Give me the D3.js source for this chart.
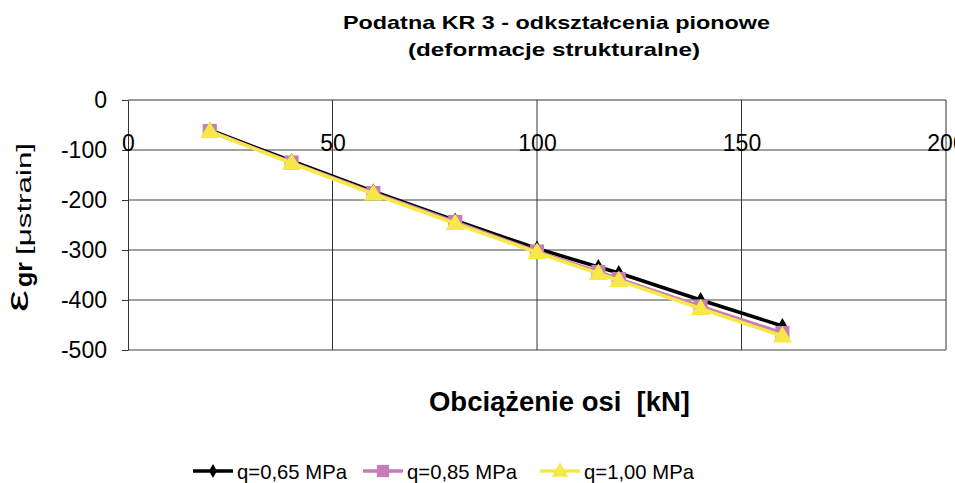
<!DOCTYPE html>
<html>
<head>
<meta charset="utf-8">
<script src="https://cdn.jsdelivr.net/npm/d3@7"></script>
<style>
  body { margin: 0; background: #fff; }
  text { font-family: "Liberation Sans", Arial, Helvetica, sans-serif; white-space: pre; }
</style>
</head>
<body>
<div id="chart"></div>
<script>
////// DATA
var loads = [20, 40, 60, 80, 100, 115, 120, 140, 160];
var q065 = [-60, -122, -183, -241, -297, -334, -346, -400, -452];
var q085 = [-62, -125, -186, -244, -303, -344, -358, -413, -466];
var q100 = [-63, -126, -188, -247, -305, -347, -361, -417, -472];
var seriesNames = ["q=0,65 MPa", "q=0,85 MPa", "q=1,00 MPa"];
var xTicks = [0, 50, 100, 150, 200];
var yTicks = [0, -100, -200, -300, -400, -500];

var series = [
    { name: seriesNames[0], values: q065, color: "#000000", marker: "diamond" },
    { name: seriesNames[1], values: q085, color: "#c77bb7", marker: "square" },
    { name: seriesNames[2], values: q100, color: "#f7e84a", marker: "triangle" }
];

////// SETUP SVG
var W = 955, H = 483;
var margin = { top: 100, right: 9, bottom: 133, left: 128 },
    width = W - margin.left - margin.right,
    height = H - margin.top - margin.bottom;

var root = d3.select("#chart").append("svg")
    .attr("width", W)
    .attr("height", H);

var svg = root.append("g")
    .attr("transform", "translate(" + margin.left + "," + margin.top + ")");

var x = d3.scaleLinear().domain([0, 200]).range([0, width]);
var y = d3.scaleLinear().domain([-500, 0]).range([height, 0]);

////// GRID
svg.selectAll(".hgrid").data(yTicks.slice(1))
    .enter().append("line")
    .attr("x1", 0).attr("x2", width)
    .attr("y1", d => y(d)).attr("y2", d => y(d))
    .attr("stroke", "#808080").attr("stroke-width", 1.5);

svg.selectAll(".vgrid").data(xTicks.slice(1))
    .enter().append("line")
    .attr("x1", d => x(d)).attr("x2", d => x(d))
    .attr("y1", 0).attr("y2", height)
    .attr("stroke", "#333").attr("stroke-width", 1);

// top border
svg.append("line")
    .attr("x1", 0).attr("x2", width).attr("y1", 0).attr("y2", 0)
    .attr("stroke", "#333").attr("stroke-width", 1);

// Y axis
var yAxis = svg.append("g")
    .call(d3.axisLeft(y).tickValues(yTicks).tickFormat(d => String(d))
        .tickSize(6).tickSizeOuter(0).tickPadding(15));
yAxis.select(".domain").attr("stroke", "#333");
yAxis.selectAll(".tick line").attr("stroke", "#333");
yAxis.selectAll("text").attr("font-size", "23px").attr("fill", "#000")
    .attr("font-family", "'Liberation Sans', Arial, sans-serif");

// X tick labels (axis crosses at y = 0, top)
var xAxis = svg.append("g")
    .call(d3.axisBottom(x).tickValues(xTicks).tickSize(0));
xAxis.select(".domain").remove();
xAxis.selectAll("text").attr("font-size", "23px").attr("fill", "#000")
    .attr("y", 51).attr("dy", 0)
    .attr("font-family", "'Liberation Sans', Arial, sans-serif");

////// MARKERS
function markerPath(type, k) {
    k = k || 1;
    if (type === "diamond") return d3.symbol().type(d3.symbolDiamond).size(75 * k)();
    if (type === "square") return d3.symbol().type(d3.symbolSquare).size(200 * k)();
    return d3.symbol().type(d3.symbolTriangle).size(160 * k)();
}

var line = d3.line()
    .x((d, i) => x(loads[i]))
    .y(d => y(d));

series.forEach(function(s) {
    svg.append("path")
        .datum(s.values)
        .attr("fill", "none")
        .attr("stroke", s.color)
        .attr("stroke-width", 3.5)
        .attr("d", line);
    svg.selectAll(null).data(s.values)
        .enter().append("path")
        .attr("transform", (d, i) => "translate(" + x(loads[i]) + "," + (y(d) + (s.marker === "triangle" ? 1 : 0)) + ")")
        .attr("d", markerPath(s.marker))
        .attr("fill", s.color);
});

////// TITLES
root.append("text")
    .attr("x", 343).attr("y", 29)
    .attr("textLength", 427).attr("lengthAdjust", "spacingAndGlyphs")
    .attr("font-size", "19px").attr("font-weight", "bold")
    .text("Podatna KR 3 - odkształcenia pionowe");
root.append("text")
    .attr("x", 408).attr("y", 56)
    .attr("textLength", 292).attr("lengthAdjust", "spacingAndGlyphs")
    .attr("font-size", "19px").attr("font-weight", "bold")
    .text("(deformacje strukturalne)");

// X label
root.append("text")
    .attr("x", 429).attr("y", 411)
    .attr("textLength", 261).attr("lengthAdjust", "spacingAndGlyphs")
    .attr("font-size", "27px").attr("font-weight", "bold")
    .text("Obciążenie osi  [kN]");

// Y label (three rotated pieces)
root.append("text")
    .attr("transform", "translate(28,312) rotate(-90)")
    .attr("textLength", 22).attr("lengthAdjust", "spacingAndGlyphs")
    .attr("font-size", "32px")
    .text("ε");
root.append("text")
    .attr("transform", "translate(32,287) rotate(-90)")
    .attr("textLength", 25).attr("lengthAdjust", "spacingAndGlyphs")
    .attr("font-size", "23px").attr("font-weight", "bold")
    .text("gr");
root.append("text")
    .attr("transform", "translate(31,255) rotate(-90)")
    .attr("textLength", 112).attr("lengthAdjust", "spacingAndGlyphs")
    .attr("font-size", "21px")
    .text("[μstrain]");

////// LEGEND
var legendX = [193, 363, 540];
series.forEach(function(s, i) {
    var g = root.append("g").attr("transform", "translate(" + legendX[i] + ",471)");
    g.append("line").attr("x1", 0).attr("x2", 40).attr("y1", 0).attr("y2", 0)
        .attr("stroke", s.color).attr("stroke-width", 3.5);
    g.append("path").attr("transform", "translate(20," + (s.marker === "triangle" ? 1 : 0) + ")")
        .attr("d", markerPath(s.marker, 0.75)).attr("fill", s.color);
    g.append("text").attr("x", 44).attr("y", 8)
        .attr("textLength", 110).attr("lengthAdjust", "spacingAndGlyphs")
        .attr("font-size", "21px").text(s.name);
});
</script>
</body>
</html>
